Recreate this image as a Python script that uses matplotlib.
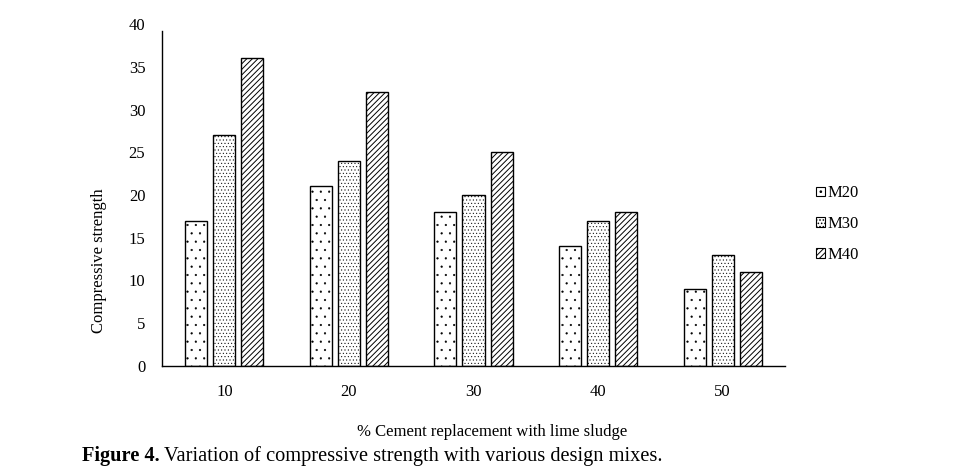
import matplotlib
matplotlib.use("Agg")
import matplotlib.pyplot as plt
import numpy as np
from matplotlib.patches import Patch

plt.rcParams['font.family'] = ['Liberation Serif', 'DejaVu Serif']

categories = ['10', '20', '30', '40', '50']
series_names = ['M20', 'M30', 'M40']
m20 = [17, 21, 18, 14, 9]
m30 = [27, 24, 20, 17, 13]
m40 = [36, 32, 25, 18, 11]
yticks = [0, 5, 10, 15, 20, 25, 30, 35, 40]

hatches = ['..', '.....', '//////']
hatch_lw = [0.35, 0.35, 0.7]

fig = plt.figure(figsize=(9.77, 4.75), dpi=100)
ax = fig.add_axes([162/977, 1-366/475, (785-162)/977, (366-24)/475])

x = np.arange(len(categories))
width = 0.177
step = 0.225
handles = []
for i, (vals, name, h, hl) in enumerate(zip([m20, m30, m40], series_names, hatches, hatch_lw)):
    plt.rcParams['hatch.linewidth'] = hl
    ax.bar(x + (i - 1) * step, vals, width, facecolor='white', edgecolor='black',
           linewidth=1.0, hatch=h, label=name)
    handles.append(Patch(facecolor='white', edgecolor='black', hatch=h, linewidth=0.8, label=name))

ax.set_xlim(-0.5, len(categories) - 0.5)
ax.set_ylim(0, 40)
ax.set_yticks(yticks)
ax.set_xticks(x)
ax.set_xticklabels(categories)
ax.tick_params(axis='both', length=0, labelsize=12)
ax.tick_params(axis='y', pad=12)
ax.tick_params(axis='x', pad=13)
for s in ['top', 'right']:
    ax.spines[s].set_visible(False)
ax.spines['left'].set_bounds(0, 39.2)
ax.spines['left'].set_linewidth(1.0)
ax.spines['bottom'].set_linewidth(1.0)

leg = fig.legend(handles=handles, loc='center left', bbox_to_anchor=(808/977, 1-224/475),
                 frameon=False, fontsize=12, handlelength=0.5, handleheight=0.5,
                 handletextpad=0.2, labelspacing=0.88, borderpad=0)

fig.text(99/977, 1-261/475, 'Compressive strength', rotation=90, ha='center', va='center',
         fontsize=12)
fig.text(492/977, 1-432/475, '% Cement replacement with lime sludge', ha='center', va='center',
         fontsize=12)

t1 = fig.text(82/977, 1-456/475, 'Figure 4.', ha='left', va='center', fontsize=14.7,
              fontweight='bold')
fig.canvas.draw()
bb = t1.get_window_extent(renderer=fig.canvas.get_renderer())
fig.text((bb.x1 + 4) / 977, 1-456/475, 'Variation of compressive strength with various design mixes.',
         ha='left', va='center', fontsize=14.7)

fig.savefig('out.png', dpi=100)
